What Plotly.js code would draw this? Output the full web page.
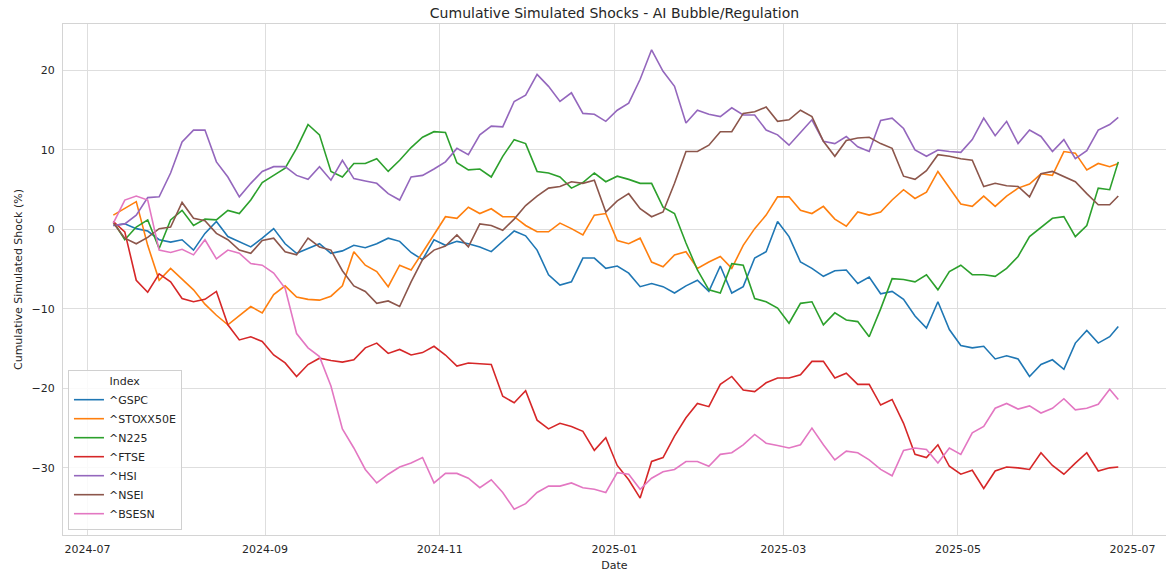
<!DOCTYPE html>
<html>
<head>
<meta charset="utf-8">
<script src="https://cdn.plot.ly/plotly-3.0.1.min.js"></script>
<style>html,body{margin:0;padding:0;background:#fff;}#chart{width:1166px;height:572px;}</style>
</head>
<body>
<div id="chart"></div>
<script>
const dates = [
"2024-07-10","2024-07-14","2024-07-18","2024-07-22","2024-07-26","2024-07-30","2024-08-03","2024-08-07","2024-08-11","2024-08-15",
"2024-08-19","2024-08-23","2024-08-27","2024-08-31","2024-09-04","2024-09-08","2024-09-12","2024-09-16","2024-09-20","2024-09-24",
"2024-09-28","2024-10-02","2024-10-06","2024-10-10","2024-10-14","2024-10-18","2024-10-22","2024-10-26","2024-10-30","2024-11-03",
"2024-11-07","2024-11-11","2024-11-15","2024-11-19","2024-11-23","2024-11-27","2024-12-01","2024-12-05","2024-12-09","2024-12-13",
"2024-12-17","2024-12-21","2024-12-25","2024-12-29","2025-01-02","2025-01-06","2025-01-10","2025-01-14","2025-01-18","2025-01-22",
"2025-01-26","2025-01-30","2025-02-03","2025-02-07","2025-02-11","2025-02-15","2025-02-19","2025-02-23","2025-02-27","2025-03-03",
"2025-03-07","2025-03-11","2025-03-15","2025-03-19","2025-03-23","2025-03-27","2025-03-31","2025-04-04","2025-04-08","2025-04-12",
"2025-04-16","2025-04-20","2025-04-24","2025-04-28","2025-05-02","2025-05-06","2025-05-10","2025-05-14","2025-05-18","2025-05-22",
"2025-05-26","2025-05-30","2025-06-03","2025-06-07","2025-06-11","2025-06-15","2025-06-19","2025-06-23","2025-06-26"
];

const seriesNames = ["^GSPC","^STOXX50E","^N225","^FTSE","^HSI","^NSEI","^BSESN"];
const seriesColors = ["#1f77b4","#ff7f0e","#2ca02c","#d62728","#9467bd","#8c564b","#e377c2"];

const gspc = [
0.5,0.7,0.1,-0.2,-1.3,-1.6,-1.3,-2.6,-0.5,1.0,-0.9,-1.6,-2.2,-1.1,0.1,-1.8,-3.0,-2.4,-1.8,-3.0,-2.7,
-2.0,-2.3,-1.8,-1.1,-1.5,-2.9,-3.8,-1.3,-2.0,-1.5,-1.8,-2.2,-2.8,-1.5,-0.2,-0.8,-2.6,-5.7,-7.0,-6.6,-3.6,-3.6,-4.9,-4.6,
-5.5,-7.2,-6.8,-7.2,-8.0,-7.1,-6.4,-7.8,-4.6,-8.0,-7.2,-3.6,-2.8,1.0,-0.9,-4.1,-4.9,-5.9,-5.2,-5.1,-6.8,-6.0,-8.1,
-7.8,-8.8,-10.9,-12.4,-9.1,-12.6,-14.6,-14.9,-14.7,-16.3,-15.9,-16.3,-18.5,-17.0,-16.4,-17.6,-14.3,-12.7,-14.3,-13.5,-12.2
];
const stoxx = [
1.8,2.6,3.5,-2.0,-6.4,-4.9,-6.2,-7.6,-9.4,-10.8,-12.0,-10.8,-9.7,-10.5,-8.2,-7.1,-8.5,-8.8,-8.9,-8.4,-7.1,
-2.8,-4.5,-5.3,-7.2,-4.5,-5.1,-2.9,-0.7,1.6,1.4,2.8,2.0,2.6,1.6,1.6,0.5,-0.3,-0.3,0.8,0.1,-0.7,1.8,2.0,-1.4,
-1.8,-1.1,-4.1,-4.7,-3.2,-2.8,-4.9,-4.1,-3.4,-4.9,-2.0,0.1,1.8,4.1,4.1,2.4,2.0,2.9,1.3,0.4,2.2,1.8,2.2,
3.7,5.0,3.9,4.7,7.3,5.2,3.2,2.9,4.2,2.9,4.2,5.2,5.7,7.0,6.8,9.8,9.6,7.5,8.3,7.9,8.3
];
const n225 = [
1.0,-1.3,0.3,1.2,-2.4,1.2,2.4,0.5,1.3,1.2,2.4,2.0,3.7,5.9,6.8,7.7,10.2,13.2,11.9,7.3,6.6,
8.3,8.3,8.9,7.3,8.7,10.3,11.6,12.3,12.2,8.4,7.5,7.6,6.6,9.2,11.3,10.8,7.3,7.1,6.6,5.2,5.9,7.1,6.0,6.7,
6.3,5.8,5.8,2.8,2.0,-1.7,-5.1,-7.6,-8.0,-4.3,-4.5,-8.7,-9.1,-9.9,-11.8,-9.3,-9.1,-12.0,-10.5,-11.4,-11.6,-13.5,-10.0,
-6.2,-6.3,-6.6,-5.7,-7.6,-5.3,-4.5,-5.7,-5.7,-5.9,-4.9,-3.4,-0.9,0.3,1.4,1.6,-0.9,0.5,5.2,5.0,8.5
];
const ftse = [
1.0,-0.3,-6.4,-7.9,-5.6,-6.6,-8.7,-9.1,-8.8,-7.8,-12.0,-13.9,-13.5,-14.1,-15.8,-16.8,-18.5,-17.0,-16.2,-16.5,-16.7,
-16.4,-14.9,-14.3,-15.6,-15.1,-15.8,-15.5,-14.7,-15.8,-17.2,-16.8,-16.9,-17.0,-21.0,-21.8,-20.3,-24.0,-25.1,-24.4,-24.8,-25.4,-27.8,-26.2,-29.7,
-31.5,-33.8,-29.2,-28.7,-26.0,-23.7,-21.9,-22.3,-19.5,-18.5,-20.2,-20.4,-19.3,-18.7,-18.7,-18.3,-16.6,-16.6,-18.7,-18.1,-19.5,-19.5,-22.1,
-21.4,-24.4,-28.3,-28.7,-27.1,-29.8,-30.8,-30.3,-32.6,-30.4,-29.9,-30.0,-30.2,-28.1,-29.7,-30.8,-29.4,-28.1,-30.4,-30.0,-29.9
];
const hsi = [
0.5,0.7,1.8,4.0,4.1,7.1,11.0,12.5,12.5,8.5,6.6,4.1,5.8,7.3,7.9,7.9,6.8,6.3,7.9,6.2,8.7,
6.4,6.1,5.8,4.5,3.7,6.6,6.8,7.6,8.5,10.2,9.4,11.9,13.0,12.9,16.1,16.9,19.5,18.0,16.1,17.2,14.6,14.5,13.6,15.0,
15.9,18.9,22.6,19.9,18.0,13.4,15.0,14.5,14.2,15.3,14.4,14.4,12.5,11.9,10.6,12.2,13.8,11.1,10.8,11.7,10.4,9.8,13.7,
14.0,12.7,10.0,9.2,10.0,9.8,9.7,11.3,14.0,11.8,13.6,10.8,12.5,11.7,9.8,11.3,8.9,9.9,12.5,13.2,14.1
];
const nsei = [
0.8,-1.1,-1.8,-1.0,0.1,0.3,3.4,1.4,1.1,-0.5,-1.3,-2.6,-3.0,-1.4,-1.1,-2.8,-3.2,-1.1,-2.2,-2.6,-5.2,
-7.1,-7.8,-9.3,-9.0,-9.7,-6.6,-3.8,-2.6,-2.1,-0.7,-2.2,0.7,0.5,-0.1,1.3,3.0,4.2,5.2,5.4,6.0,5.8,6.2,2.2,3.6,
4.5,2.6,1.6,2.2,5.8,9.8,9.8,10.6,12.3,12.3,14.6,14.8,15.4,13.6,13.8,15.0,14.2,11.1,9.2,11.2,11.5,11.6,10.8,
10.2,6.7,6.3,7.4,9.4,9.2,8.9,8.7,5.4,5.8,5.5,5.4,4.1,7.0,7.3,6.6,6.0,4.5,3.1,3.1,4.2
];
const bsesn = [
0.8,3.7,4.2,3.7,-2.6,-2.9,-2.5,-3.2,-1.3,-3.7,-2.6,-3.0,-4.3,-4.5,-5.5,-7.4,-13.1,-14.9,-16.0,-19.7,-25.1,
-27.5,-30.2,-31.9,-30.8,-29.9,-29.4,-28.7,-31.9,-30.7,-30.7,-31.3,-32.5,-31.5,-33.1,-35.2,-34.5,-33.1,-32.3,-32.3,-31.9,-32.5,-32.7,-33.1,-30.6,
-30.8,-32.7,-31.3,-30.5,-30.2,-29.2,-29.2,-29.8,-28.3,-28.1,-27.1,-25.8,-26.9,-27.2,-27.5,-27.1,-25.0,-27.1,-29.0,-27.9,-28.1,-29.0,-30.2,
-31.0,-27.8,-27.5,-27.7,-29.4,-27.5,-28.3,-25.6,-24.8,-22.5,-21.9,-22.6,-22.2,-23.1,-22.5,-21.3,-22.7,-22.5,-22.0,-20.1,-21.4
];

const seriesValues = [gspc, stoxx, n225, ftse, hsi, nsei, bsesn];
const xTickVals = ["2024-07-01","2024-09-01","2024-11-01","2025-01-01","2025-03-01","2025-05-01","2025-07-01"];
const xTickText = ["2024-07","2024-09","2024-11","2025-01","2025-03","2025-05","2025-07"];
const yTickVals = [-30,-20,-10,0,10,20];

const traces = seriesNames.map((name, i) => ({
  type: "scatter",
  mode: "lines",
  name: name,
  x: dates,
  y: seriesValues[i],
  line: {color: seriesColors[i], width: 1.6}
}));

const txt = "#262626";
const font = {family: "DejaVu Sans, sans-serif", size: 11, color: txt};
const layout = {
  width: 1166, height: 572,
  margin: {l: 63, r: 0, t: 24, b: 37, pad: 0},
  paper_bgcolor: "#ffffff",
  plot_bgcolor: "#ffffff",
  font: font,
  showlegend: true,
  title: {text: "Cumulative Simulated Shocks - AI Bubble/Regulation", font: {family: "DejaVu Sans, sans-serif", size: 14, color: txt}, xref: "paper", x: 0.5, xanchor: "center", y: 0.985, yanchor: "top"},
  xaxis: {
    type: "date",
    range: ["2024-06-22 10:00", "2025-07-12 16:00"],
    tickvals: xTickVals, ticktext: xTickText,
    showgrid: true, gridcolor: "#dedede", gridwidth: 1,
    showline: true, linecolor: "#d4d4d4", linewidth: 1, mirror: true,
    zeroline: false, ticks: "", ticklabelstandoff: 4,
    tickfont: font,
    title: {text: "Date", font: {family: "DejaVu Sans, sans-serif", size: 11, color: txt}, standoff: 6}
  },
  yaxis: {
    range: [-38.45, 25.85],
    tickvals: yTickVals,
    showgrid: true, gridcolor: "#dedede", gridwidth: 1,
    showline: true, linecolor: "#d4d4d4", linewidth: 1, mirror: false,
    zeroline: false, ticks: "", ticklabelstandoff: 5,
    tickfont: font,
    title: {text: "Cumulative Simulated Shock (%)", font: {family: "DejaVu Sans, sans-serif", size: 11, color: txt}, standoff: 6}
  },
  legend: {
    x: 0.0045, y: 0.01, xanchor: "left", yanchor: "bottom",
    bgcolor: "rgba(255,255,255,0.85)", bordercolor: "#d0d0d0", borderwidth: 1,
    font: {family: "DejaVu Sans, sans-serif", size: 11, color: txt},
    title: {text: "Index", side: "top center", font: {family: "DejaVu Sans, sans-serif", size: 11, color: txt}},
    tracegroupgap: 0, itemwidth: 30
  }
};

Plotly.newPlot("chart", traces, layout, {displayModeBar: false, staticPlot: true});
</script>
</body>
</html>
